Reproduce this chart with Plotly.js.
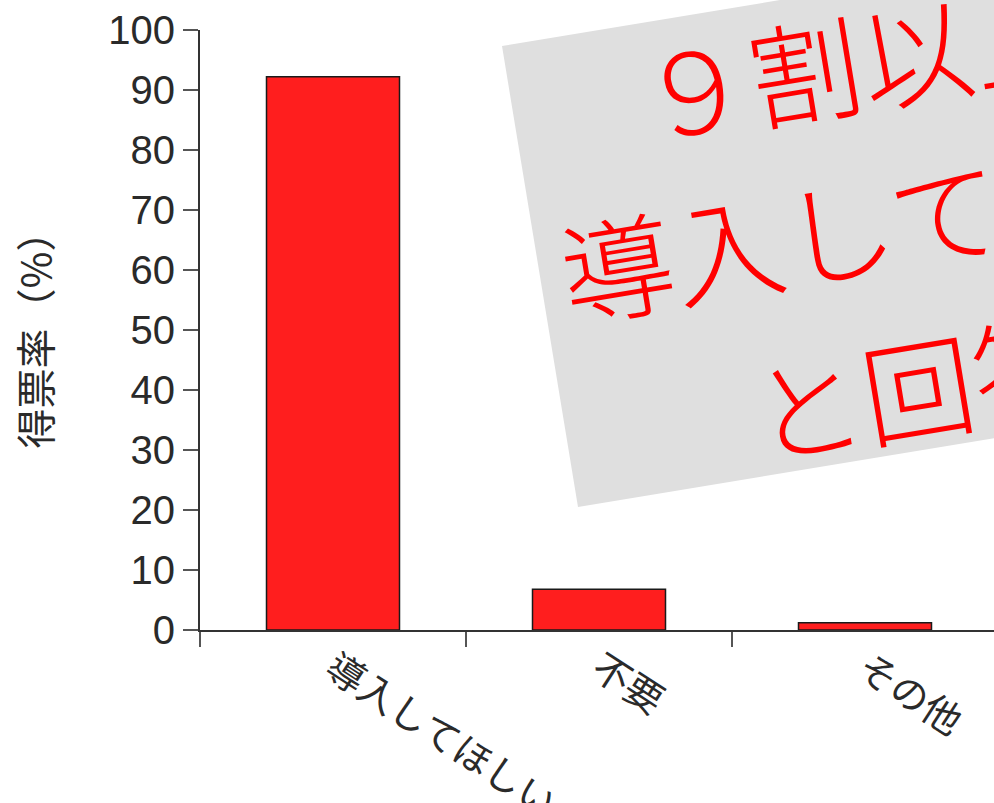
<!DOCTYPE html>
<html>
<head>
<meta charset="utf-8">
<script src="https://cdn.plot.ly/plotly-3.0.1.min.js"></script>
<style>
html,body{margin:0;padding:0;background:#fff;overflow:hidden;}
#chart{width:994px;height:803px;}
</style>
</head>
<body>
<div id="chart"></div>
<script>
// ---- data ----
const categories = ['導入してほしい', '不要', 'その他'];
const voteRates = [92.2, 6.8, 1.2];
const yTickValues = [0, 10, 20, 30, 40, 50, 60, 70, 80, 90, 100];
const yTickLabels = ['0', '10', '20', '30', '40', '50', '60', '70', '80', '90', '100'];
const yAxisTitle = '得票率（%）';
const calloutLines = ['９割以上が', '導入してほしい', 'と回答'];

// ---- layout geometry (pixels) ----
const W = 994, H = 803;
const M = {l: 200, r: 0, t: 30, b: 173};
const plotW = W - M.l - M.r, plotH = H - M.t - M.b;
const px = X => (X - M.l) / plotW;
const py = Y => (H - M.b - Y) / plotH;

// rotated grey callout box
const ang = 9.4 * Math.PI / 180;
const ux = Math.cos(ang), uy = -Math.sin(ang);   // along-text direction (screen)
const nx = Math.sin(ang), ny = Math.cos(ang);    // perpendicular (down)
const A = [502, 46], B = [578, 507], boxW = 720;
const D = [A[0] + boxW * ux, A[1] + boxW * uy];
const C = [B[0] + boxW * ux, B[1] + boxW * uy];
const boxPath = `M ${px(A[0])} ${py(A[1])} L ${px(B[0])} ${py(B[1])} L ${px(C[0])} ${py(C[1])} L ${px(D[0])} ${py(D[1])} Z`;

const alongs = [895, 900, 842];
const perps = [208, 371, 540];
const annotations = calloutLines.map((t, i) => {
  const X = alongs[i] * ux + perps[i] * nx;
  const Y = alongs[i] * uy + perps[i] * ny;
  return {
    text: t, xref: 'paper', yref: 'paper', x: px(X), y: py(Y),
    xanchor: 'center', yanchor: 'middle', showarrow: false,
    textangle: -9.4,
    font: {family: 'Liberation Serif, Noto Sans CJK JP, serif', size: 112, weight: 300, color: '#ff0000'}
  };
});

const trace = {
  type: 'bar',
  x: categories,
  y: voteRates,
  width: 0.5,
  marker: {color: '#ff1e1e', line: {color: '#1a1a1a', width: 1.5}},
  hoverinfo: 'skip'
};

const tickFont = {family: 'Liberation Sans, Noto Sans CJK JP, sans-serif', size: 40, color: '#2a2a2a'};

const layout = {
  width: W, height: H,
  margin: M,
  paper_bgcolor: '#ffffff', plot_bgcolor: '#ffffff',
  showlegend: false,
  xaxis: {
    type: 'category',
    range: [-0.5, -0.5 + plotW / 266],
    tickson: 'boundaries',
    ticks: 'outside', ticklen: 15, tickwidth: 1.5, tickcolor: '#555',
    showline: true, linecolor: '#333', linewidth: 2,
    showgrid: false, zeroline: false,
    tickangle: 33,
    tickfont: {family: 'Noto Sans CJK JP, sans-serif', size: 38, color: '#2a2a2a'},
    automargin: false
  },
  yaxis: {
    range: [0, 100],
    tickvals: yTickValues, ticktext: yTickLabels,
    ticks: 'outside', ticklen: 15, tickwidth: 1.5, tickcolor: '#555',
    showline: true, linecolor: '#333', linewidth: 2,
    showgrid: false, zeroline: false,
    tickfont: tickFont,
    title: {text: yAxisTitle, font: {family: 'Noto Sans CJK JP, sans-serif', size: 40, color: '#2a2a2a'}, standoff: 44},
    automargin: false
  },
  shapes: [{
    type: 'path', xref: 'paper', yref: 'paper', path: boxPath,
    fillcolor: '#dfdfdf', line: {width: 0}, layer: 'above'
  }],
  annotations: annotations
};

Plotly.newPlot('chart', [trace], layout, {displayModeBar: false, staticPlot: true});
</script>
</body>
</html>
